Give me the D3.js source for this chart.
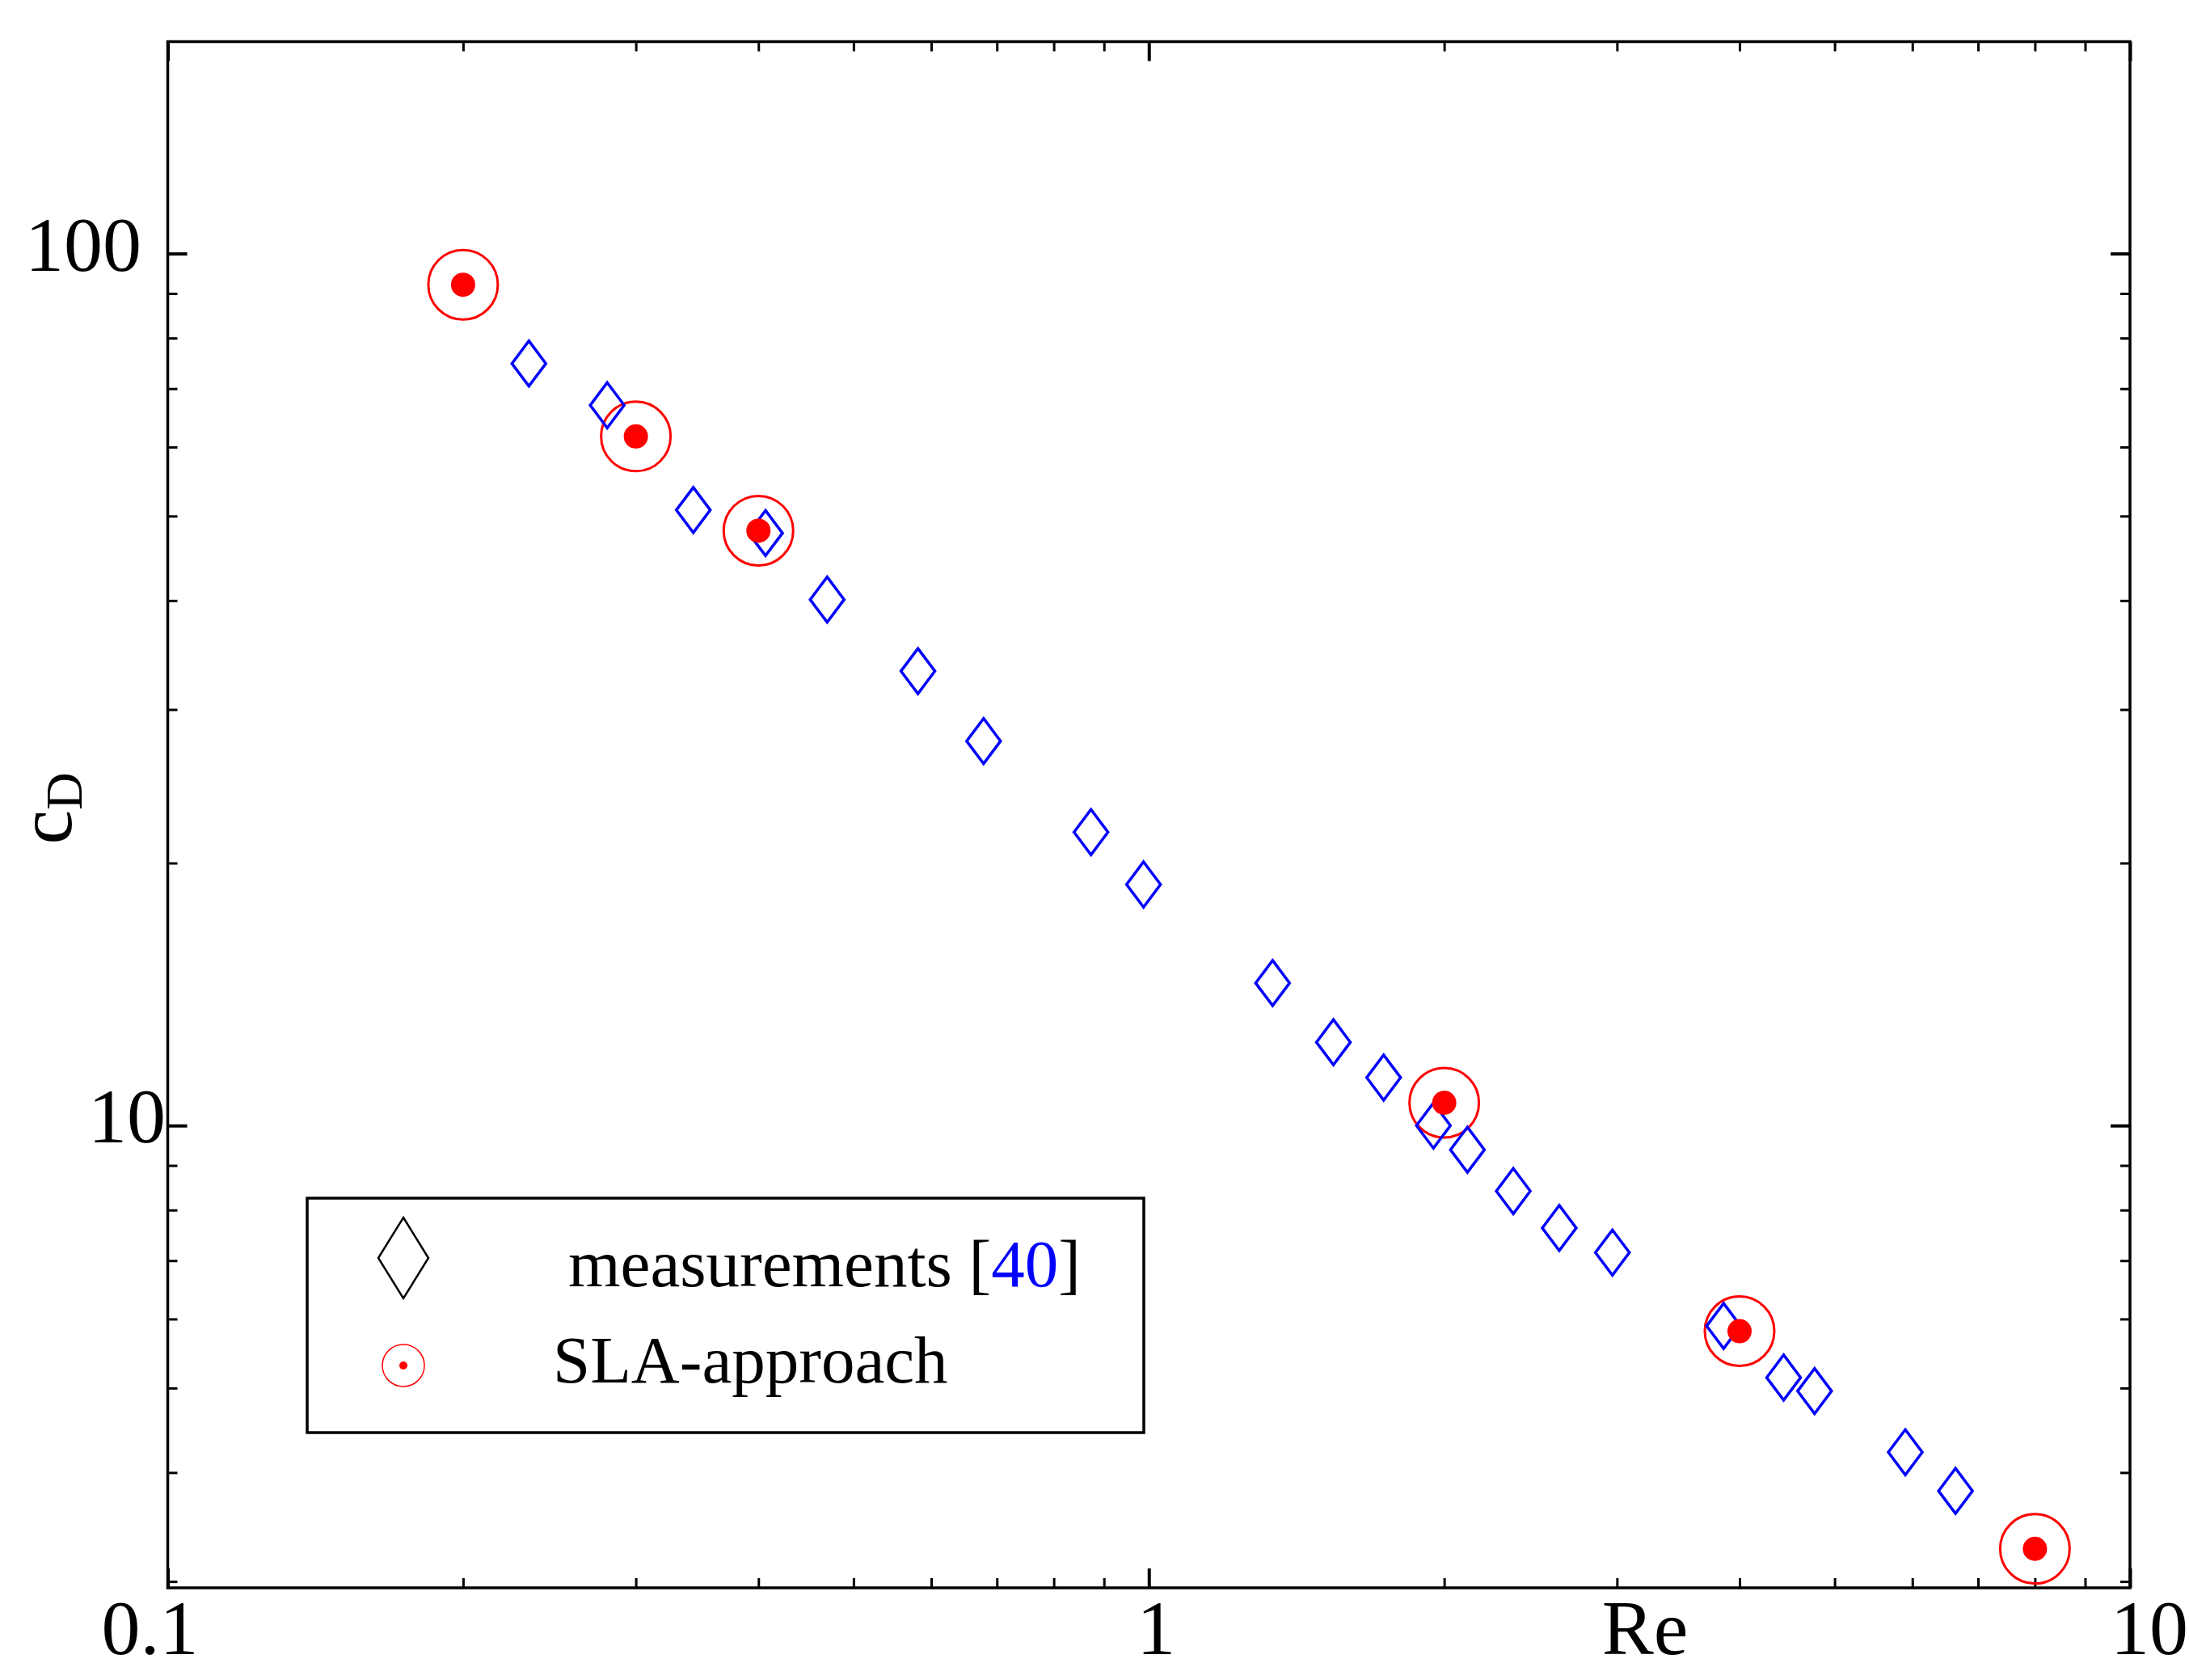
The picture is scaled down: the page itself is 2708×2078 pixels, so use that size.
<!DOCTYPE html>
<html>
<head>
<meta charset="utf-8">
<script src="https://cdn.jsdelivr.net/npm/d3@7"></script>
<style>
  body { margin: 0; background: #ffffff; }
  svg { display: block; }
</style>
</head>
<body>
<svg id="chart" width="2708" height="2078"></svg>
<script>
// measurements [40]
let reMeas = [0.2334, 0.2805, 0.3433, 0.4067, 0.470, 0.5816, 0.6785, 0.873, 0.9876, 1.337, 1.542,
              1.735, 1.950, 2.112, 2.352, 2.620, 2.968, 3.853, 4.436, 4.770, 5.902, 6.64];
let cdMeas = [74.8, 67.0, 50.8, 47.8, 40.1, 33.2, 27.6, 21.7, 18.9, 14.57, 12.46,
              11.35, 10.0, 9.38, 8.41, 7.63, 7.15, 5.89, 5.14, 4.96, 4.22, 3.81];

// SLA-approach
let reSla = [0.2, 0.3, 0.4, 2, 4, 8];
let cdSla = [92.1, 61.7, 48.1, 10.62, 5.81, 3.27];

// axis ticks
let xMajor = [0.1, 1, 10];
let xMinor = [0.2, 0.3, 0.4, 0.5, 0.6, 0.7, 0.8, 0.9, 2, 3, 4, 5, 6, 7, 8, 9];
let yMajor = [10, 100];
let yMinor = [3, 4, 5, 6, 7, 8, 9, 20, 30, 40, 50, 60, 70, 80, 90];
let xLabels = ["0.1", "1", "10"];
let yLabels = ["10", "100"];

let legendLabels = ["measurements", "SLA-approach"];

function drawChart(svgId) {
  let svg = d3.select(svgId);

  let left = 207.5, right = 2635, top = 51.5, bottom = 1964;
  let fontFamily = "'Liberation Serif', 'Times New Roman', serif";
  let blue = "#0000ff";
  let red = "#ff0000";

  let x = d3.scaleLog().domain([0.1, 10]).range([left, right]);
  let y = d3.scaleLog().domain([2.95, 175]).range([bottom, top]);

  // ticks on all four sides, pointing inward
  function tickAxis(axisFn, scale, values, size, transform, width) {
    svg.append("g")
      .attr("transform", transform)
      .call(axisFn(scale).tickValues(values).tickSize(-size).tickSizeOuter(0).tickFormat(""))
      .call(g => g.select(".domain").remove())
      .selectAll("line")
        .attr("stroke", "#000")
        .attr("stroke-width", width);
  }
  tickAxis(d3.axisBottom, x, xMajor, 24, "translate(0," + bottom + ")", 4);
  tickAxis(d3.axisBottom, x, xMinor, 12, "translate(0," + bottom + ")", 3);
  tickAxis(d3.axisTop, x, xMajor, 24, "translate(0," + top + ")", 4);
  tickAxis(d3.axisTop, x, xMinor, 12, "translate(0," + top + ")", 3);
  tickAxis(d3.axisLeft, y, yMajor, 24, "translate(" + left + ",0)", 4);
  tickAxis(d3.axisLeft, y, yMinor, 12, "translate(" + left + ",0)", 3);
  tickAxis(d3.axisRight, y, yMajor, 24, "translate(" + right + ",0)", 4);
  tickAxis(d3.axisRight, y, yMinor, 12, "translate(" + right + ",0)", 3);

  // frame
  svg.append("rect")
    .attr("x", left)
    .attr("y", top)
    .attr("width", right - left)
    .attr("height", bottom - top)
    .attr("fill", "none")
    .attr("stroke", "#000")
    .attr("stroke-width", 3.5);

  // tick labels (offsets follow the original layout)
  let xLabelShift = [-22, 9, 24];
  svg.selectAll(".xlab")
    .data(xMajor)
    .enter()
    .append("text")
    .attr("x", (d, i) => x(d) + xLabelShift[i])
    .attr("y", 2046)
    .attr("text-anchor", "middle")
    .style("font-family", fontFamily)
    .style("font-size", "96px")
    .text((d, i) => xLabels[i]);

  let yLabelRight = [205, 175];
  svg.selectAll(".ylab")
    .data(yMajor)
    .enter()
    .append("text")
    .attr("x", (d, i) => yLabelRight[i])
    .attr("y", d => y(d) + 21)
    .attr("text-anchor", "end")
    .style("font-family", fontFamily)
    .style("font-size", "96px")
    .text((d, i) => yLabels[i]);

  // axis titles
  svg.append("text")
    .attr("x", 2035)
    .attr("y", 2046)
    .attr("text-anchor", "middle")
    .style("font-family", fontFamily)
    .style("font-size", "96px")
    .text("Re");

  let yTitle = svg.append("text")
    .attr("transform", "translate(88,1000) rotate(-90)")
    .attr("text-anchor", "middle")
    .style("font-family", fontFamily);
  yTitle.append("tspan").style("font-size", "96px").text("c");
  yTitle.append("tspan").style("font-size", "64px").attr("dy", 13).text("D");

  let measData = reMeas.map((d, i) => ({re: d, cd: cdMeas[i]}));
  let slaData = reSla.map((d, i) => ({re: d, cd: cdSla[i]}));

  let diamond = (w, h) => "M0," + (-h) + "L" + w + ",0L0," + h + "L" + (-w) + ",0Z";

  // SLA rings
  svg.selectAll(".slaRing")
    .data(slaData)
    .enter()
    .append("circle")
    .attr("cx", d => x(d.re))
    .attr("cy", d => y(d.cd))
    .attr("r", 43)
    .attr("fill", "none")
    .attr("stroke", red)
    .attr("stroke-width", 3);

  // measurement diamonds
  svg.selectAll(".meas")
    .data(measData)
    .enter()
    .append("path")
    .attr("d", diamond(21, 28))
    .attr("transform", d => "translate(" + x(d.re) + "," + y(d.cd) + ")")
    .attr("fill", "none")
    .attr("stroke", blue)
    .attr("stroke-width", 3.5);

  // SLA dots
  svg.selectAll(".slaDot")
    .data(slaData)
    .enter()
    .append("circle")
    .attr("cx", d => x(d.re))
    .attr("cy", d => y(d.cd))
    .attr("r", 15)
    .attr("fill", red);

  // legend
  let legend = svg.append("g");
  legend.append("rect")
    .attr("x", 380)
    .attr("y", 1482)
    .attr("width", 1035)
    .attr("height", 290)
    .attr("fill", "#fff")
    .attr("stroke", "#000")
    .attr("stroke-width", 3.5);

  legend.append("path")
    .attr("d", diamond(31, 50))
    .attr("transform", "translate(499,1556)")
    .attr("fill", "none")
    .attr("stroke", "#000")
    .attr("stroke-width", 2.5);

  legend.append("circle")
    .attr("cx", 499).attr("cy", 1689).attr("r", 26)
    .attr("fill", "none").attr("stroke", red).attr("stroke-width", 1.5);
  legend.append("circle")
    .attr("cx", 499).attr("cy", 1689).attr("r", 5)
    .attr("fill", red);

  let t1 = legend.append("text")
    .attr("x", 703)
    .attr("y", 1591)
    .style("font-family", fontFamily)
    .style("font-size", "83px");
  t1.append("tspan").text(legendLabels[0] + " [");
  t1.append("tspan").attr("fill", blue).text("40");
  t1.append("tspan").text("]");

  legend.append("text")
    .attr("x", 684)
    .attr("y", 1710)
    .style("font-family", fontFamily)
    .style("font-size", "83px")
    .text(legendLabels[1]);
}

drawChart("#chart");
</script>
</body>
</html>
